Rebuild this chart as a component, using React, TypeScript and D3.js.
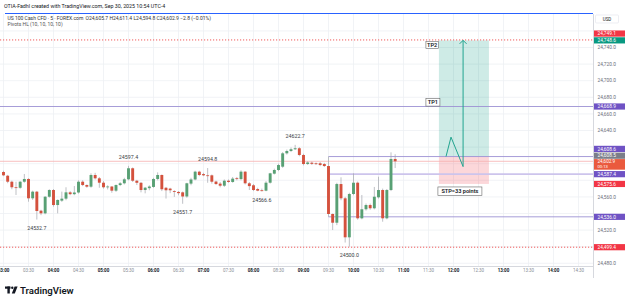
import React from "react";
import * as d3 from "d3";

// 5-minute bars starting 03:00
const opens = [24590.0,24585.5,24578.3,24571.6,24571.0,24578.3,24581.6,24558.3,24566.3,24543.4,24540.2,24560.2,24568.3,24550.2,24555.5,24557.9,24565.5,24563.3,24565.3,24578.3,24574.3,24572.3,24586.4,24582.4,24577.1,24571.6,24572.5,24567.5,24574.3,24576.4,24581.2,24594.5,24579.5,24577.0,24568.3,24570.5,24572.0,24581.6,24586.4,24571.0,24570.0,24567.0,24566.0,24565.5,24560.5,24576.0,24581.0,24590.4,24587.5,24586.0,24586.0,24578.5,24576.0,24573.5,24579.5,24578.0,24582.5,24581.5,24590.4,24576.4,24574.0,24569.5,24568.0,24567.5,24577.1,24588.0,24592.4,24596.4,24612.5,24615.3,24617.4,24618.6,24610.5,24599.6,24601.2,24600.5,24600.5,24599.6,24597.2,24539.4,24528.9,24575.5,24558.3,24511.3,24563.5,24577.1,24534.2,24545.1,24550.2,24546.3,24559.5,24568.3,24534.2,24568.3,24605.7];
const highs = [24591.5,24586.5,24579.5,24578.3,24579.0,24587.6,24582.5,24567.5,24567.2,24544.5,24561.0,24569.2,24569.5,24557.0,24566.3,24571.6,24567.0,24573.1,24580.0,24580.0,24575.0,24588.4,24589.0,24584.0,24579.0,24574.0,24573.0,24575.0,24578.0,24583.0,24597.4,24595.5,24580.5,24578.0,24572.0,24574.0,24583.0,24589.6,24587.0,24572.0,24571.0,24568.0,24567.0,24566.5,24577.0,24583.0,24591.5,24591.5,24589.0,24594.8,24587.0,24579.5,24578.0,24581.0,24581.0,24584.0,24584.0,24592.0,24591.0,24578.0,24575.5,24571.0,24570.0,24579.0,24589.0,24594.0,24600.0,24614.0,24617.0,24619.5,24622.7,24620.0,24612.0,24603.0,24602.5,24601.5,24602.0,24601.0,24608.6,24540.0,24577.0,24583.6,24560.0,24565.0,24588.4,24578.5,24562.3,24552.0,24552.0,24572.0,24584.3,24570.0,24569.5,24613.7,24611.4];
const lows = [24585.0,24576.5,24569.2,24562.3,24569.8,24577.0,24554.2,24556.3,24532.7,24538.0,24539.0,24559.0,24548.2,24540.2,24554.0,24556.0,24562.0,24562.0,24564.0,24573.0,24571.0,24571.0,24581.0,24571.0,24570.0,24569.0,24565.0,24566.0,24573.0,24575.0,24580.0,24578.0,24574.3,24565.5,24564.3,24568.0,24571.0,24580.0,24567.0,24558.0,24564.5,24560.0,24562.0,24551.7,24559.0,24574.0,24580.0,24585.0,24585.0,24577.0,24576.0,24574.5,24571.5,24572.0,24577.0,24577.0,24580.0,24580.0,24575.0,24568.3,24567.0,24566.8,24566.6,24566.8,24576.0,24587.0,24591.0,24595.0,24611.0,24614.0,24616.5,24609.0,24598.0,24598.5,24598.5,24598.5,24597.0,24596.0,24536.0,24520.1,24526.0,24556.0,24505.0,24500.0,24562.0,24532.5,24533.0,24543.5,24544.5,24545.0,24558.0,24530.1,24533.0,24567.0,24594.8];
const closes = [24586.0,24578.3,24571.6,24570.8,24578.3,24581.6,24558.3,24566.3,24543.0,24540.2,24560.2,24568.3,24550.2,24556.3,24557.9,24565.5,24563.3,24565.3,24578.3,24574.3,24572.3,24586.4,24582.4,24577.1,24571.6,24572.5,24567.5,24574.3,24576.4,24581.2,24594.5,24579.5,24577.0,24568.3,24571.1,24572.5,24581.6,24586.4,24569.2,24568.0,24568.0,24566.0,24564.5,24560.5,24576.4,24581.0,24590.4,24586.4,24586.0,24585.5,24578.3,24575.5,24573.5,24579.5,24578.0,24582.0,24581.5,24590.4,24576.4,24573.0,24568.3,24567.5,24567.0,24577.1,24588.4,24592.4,24598.4,24612.5,24615.3,24617.4,24618.6,24610.5,24599.6,24601.5,24599.8,24599.5,24598.4,24597.2,24539.4,24528.9,24575.5,24558.3,24511.3,24563.5,24577.1,24534.2,24545.1,24550.2,24546.3,24560.2,24568.3,24534.2,24568.3,24605.7,24602.9];
const barMinutes = 5;

const priceTicks = [24480, 24500, 24520, 24540, 24560, 24580, 24600, 24620, 24640, 24660, 24680, 24700, 24720, 24740, 24760];
const timeTickMinutes = [0, 30, 60, 90, 120, 150, 180, 210, 240, 270, 300, 330, 360, 390, 420, 450, 480, 510, 540, 570, 600, 630, 660, 690];
const timeTickLabels = ["03:00","03:30","04:00","04:30","05:00","05:30","06:00","06:30","07:00","07:30","08:00","08:30","09:00","09:30","10:00","10:30","11:00","11:30","12:00","12:30","13:00","13:30","14:00","14:30"];

const pivotBars = [8, 30, 43, 49, 62, 70, 83];
const pivotPrices = [24532.7, 24597.4, 24551.7, 24594.8, 24566.6, 24622.7, 24500.0];
const pivotTypes = ["low", "high", "low", "high", "low", "high", "low"];

const levelPrices = [24749.1, 24748.6, 24668.9, 24608.6, 24608.5, 24602.9, 24587.4, 24575.6, 24536.0, 24499.4];
const levelKinds = ["alert", "target", "tp1", "pivot", "barHigh", "last", "pivotMid", "stop", "pivot", "alert"];
const pivotLineStartBar = 78;
const countdown = "00:13";

const entryPrice = 24608.6;
const targetPrice = 24748.6;
const stopPrice = 24575.6;
const positionStartMin = 522.5;
const positionEndMin = 582.5;
const pathMinutes = [531, 537, 551.5, 551.5];
const pathPrices = [24608.6, 24632.0, 24596.5, 24748.6];
const stopText = "STP=33 points";

const W = 625, H = 304;
const plotRight = 593, plotTop = 14, plotBottom = 266;
const FONT = "Roboto, 'Liberation Sans', Arial, sans-serif";

const levelStyle: Record<string, { bg: string }> = {
  alert: { bg: "#f23645" },
  target: { bg: "#089981" },
  tp1: { bg: "#6f52c4" },
  pivot: { bg: "#6f52c4" },
  barHigh: { bg: "#7b7e89" },
  last: { bg: "#ea5a3e" },
  pivotMid: { bg: "#6f52c4" },
  stop: { bg: "#f23645" },
};

const fmt = d3.format(",.1f");

export default function App() {
  const x = d3.scaleLinear().domain([0, 360]).range([3.5, 303.5]);
  const y = d3.scaleLinear().domain([24480, 24740]).range([263.3, 47.5]);
  const bodyW = 2.9;

  const candles = opens.map((o, i) => ({
    o, h: highs[i], l: lows[i], c: closes[i], m: i * barMinutes,
  }));

  // axis label layout (avoid overlap, anchor = last price box)
  const spacing = 6.8;
  const items = levelPrices.map((p, i) => ({ p, kind: levelKinds[i], yc: y(p), pos: y(p) }));
  const anchor = items.find((d) => d.kind === "last")!;
  const aTop = anchor.yc - 2.2, aBot = anchor.yc + 8.4;
  const above = items.filter((d) => d !== anchor && d.p >= anchor.p).sort((a, b) => b.yc - a.yc);
  let lim = aTop;
  above.forEach((d) => { d.pos = Math.min(d.yc, lim - spacing / 2); lim = d.pos - spacing / 2; });
  const below = items.filter((d) => d !== anchor && d.p < anchor.p).sort((a, b) => a.yc - b.yc);
  lim = aBot;
  below.forEach((d) => { d.pos = Math.max(d.yc, lim + spacing / 2); lim = d.pos + spacing / 2; });

  // hide price ticks hidden behind labels
  const boxes = items.map((d) => d.kind === "last" ? [aTop, aBot] : [d.pos - 3.1, d.pos + 3.1]);
  const visibleTicks = priceTicks.filter((p) => {
    const yy = y(p);
    return !boxes.some(([a, b]) => yy + 2.2 > a && yy - 2.2 < b);
  });

  const lineFor = (d: typeof items[0]) => {
    const yy = y(d.p);
    if (d.kind === "alert")
      return <line key={"l" + d.p} x1={0} x2={plotRight} y1={yy} y2={yy} stroke="#f05a5a" strokeWidth={1} strokeDasharray="1.2 1.8" />;
    if (d.kind === "tp1")
      return <line key={"l" + d.p} x1={0} x2={plotRight} y1={yy} y2={yy} stroke="#9d92d4" strokeWidth={0.9} />;
    if (d.kind === "last")
      return <line key={"l" + d.p} x1={0} x2={plotRight} y1={yy} y2={yy} stroke="#f6b0b0" strokeWidth={0.8} />;
    if (d.kind === "pivot")
      return <line key={"l" + d.p} x1={x(pivotLineStartBar * barMinutes)} x2={plotRight} y1={yy} y2={yy} stroke="#9d92d4" strokeWidth={0.9} />;
    if (d.kind === "pivotMid")
      return <line key={"l" + d.p} x1={x(pivotLineStartBar * barMinutes)} x2={plotRight} y1={yy} y2={yy} stroke="#cdc4ec" strokeWidth={1.8} />;
    return null;
  };

  const pathLine = d3.line<number>().x((m) => x(m)).y((_, i) => y(pathPrices[i]));
  const arrowX = x(pathMinutes[pathMinutes.length - 1]);
  const arrowY = y(pathPrices[pathPrices.length - 1]);
  const pxL = x(positionStartMin), pxR = x(positionEndMin);

  return (
    <svg width={W} height={H} style={{ position: "absolute", left: 0, top: 0, background: "#fff" }} fontFamily={FONT}>
      <defs>
        <clipPath id="plot"><rect x={0} y={plotTop} width={plotRight} height={plotBottom - plotTop} /></clipPath>
      </defs>
      <rect x={0} y={0} width={W} height={H} fill="#fff" />

      {/* header */}
      <text x={4} y={8} fontSize={5.3} fill="#131722">OTIA-Fadhl created with TradingView.com, Sep 30, 2025 10:54 UTC-4</text>

      <g clipPath="url(#plot)">
        {timeTickMinutes.map((m) => (
          <line key={"vg" + m} x1={x(m)} x2={x(m)} y1={plotTop} y2={plotBottom} stroke="#eef0f4" strokeWidth={0.8} />
        ))}
        {priceTicks.map((p) => (
          <line key={"hg" + p} x1={0} x2={plotRight} y1={y(p)} y2={y(p)} stroke="#eef0f4" strokeWidth={0.8} />
        ))}

        {/* position tool */}
        <rect x={pxL} width={pxR - pxL} y={y(targetPrice)} height={y(entryPrice) - y(targetPrice)} fill="rgba(8,153,129,0.2)" />
        <rect x={pxL} width={pxR - pxL} y={y(entryPrice)} height={y(stopPrice) - y(entryPrice)} fill="rgba(242,54,69,0.2)" />

        {items.map(lineFor)}

        {/* candles */}
        {candles.map((d, i) => {
          const up = d.c >= d.o;
          const cx = x(d.m);
          const top = y(Math.max(d.o, d.c));
          const bh = Math.max(0.8, Math.abs(y(d.o) - y(d.c)));
          return (
            <g key={"c" + i}>
              <line x1={cx} x2={cx} y1={y(d.h)} y2={y(d.l)} stroke="#a3a6ad" strokeWidth={0.7} />
              <rect x={cx - bodyW / 2} y={top} width={bodyW} height={bh} fill={up ? "#58a074" : "#d4513d"} />
            </g>
          );
        })}

        {/* pivots */}
        {pivotBars.map((b, i) => (
          <text key={"pv" + i} x={x(b * barMinutes)} y={y(pivotPrices[i]) + (pivotTypes[i] === "high" ? -7 : 10.5)}
            fontSize={5.3} fill="#3a3d45" textAnchor="middle">{pivotPrices[i].toFixed(1)}</text>
        ))}

        {/* trade path */}
        <path d={pathLine(pathMinutes) || ""} fill="none" stroke="#22a48f" strokeWidth={1} />
        <path d={`M${arrowX - 3.5},${arrowY + 3.5}L${arrowX},${arrowY}L${arrowX + 3.5},${arrowY + 3.5}`} fill="none" stroke="#22a48f" strokeWidth={1} />

        {/* annotation boxes */}
        <g fontSize={5.6} fill="#131722">
          <rect x={pxL - 13} y={y(targetPrice) + 1.3} width={12.5} height={7} fill="#fff" stroke="#666" strokeWidth={0.6} />
          <text x={pxL - 6.75} y={y(targetPrice) + 6.9} textAnchor="middle" fontWeight={600}>TP2</text>
          <rect x={pxL - 13} y={y(levelPrices[2]) - 8} width={14} height={7.6} fill="#fff" stroke="#666" strokeWidth={0.6} />
          <text x={pxL - 6} y={y(levelPrices[2]) - 2.2} textAnchor="middle" fontWeight={600}>TP1</text>
          <rect x={pxL - 1} y={y(stopPrice) + 3} width={44} height={8.4} fill="#fff" stroke="#666" strokeWidth={0.6} />
          <text x={pxL + 21} y={y(stopPrice) + 9.3} textAnchor="middle" fontWeight={600}>{stopText}</text>
        </g>
      </g>

      {/* top blue line */}
      <line x1={5} x2={plotRight} y1={13.5} y2={13.5} stroke="#2962ff" strokeWidth={1} />
      <text x={7.5} y={20} fontSize={5} fill="#333">
        US 100 Cash CFD · 5 · FOREX.com <tspan dx={1}>O24,605.7</tspan> <tspan>H24,611.4</tspan> <tspan>L24,594.8</tspan> <tspan>C24,602.9</tspan> <tspan>−2.8 (−0.01%)</tspan>
      </text>
      <text x={7.5} y={26.3} fontSize={5} fill="#555">Pivots HL (10, 10, 10, 10)</text>

      {/* axes frame */}
      <line x1={plotRight + 0.5} x2={plotRight + 0.5} y1={plotTop} y2={278} stroke="#d6d8de" strokeWidth={1} />
      <line x1={0} x2={plotRight} y1={plotBottom + 0.5} y2={plotBottom + 0.5} stroke="#d6d8de" strokeWidth={1} />

      {/* time labels */}
      {timeTickMinutes.map((m, i) => {
        const full = m % 60 === 0;
        return (
          <text key={"tl" + m} x={x(m)} y={272.2} fontSize={4.5} textAnchor="middle" fill={full ? "#131722" : "#8a8d96"} fontWeight={full ? 700 : 400}>{timeTickLabels[i]}</text>
        );
      })}

      {/* price tick labels */}
      {visibleTicks.map((p) => (
        <text key={"pl" + p} x={597.5} y={y(p) + 1.7} fontSize={4.8} fill="#6a6d78">{fmt(p)}</text>
      ))}

      {/* USD box */}
      <rect x={595.5} y={15} width={23} height={8} fill="#fff" stroke="#e0e3eb" strokeWidth={0.6} rx={1} />
      <text x={607} y={20.8} fontSize={4.5} textAnchor="middle" fill="#131722">USD</text>

      {/* price labels */}
      {items.map((d) => {
        const st = levelStyle[d.kind];
        if (d.kind === "last") {
          return (
            <g key={"lb" + d.p}>
              <rect x={594} y={aTop} width={31} height={aBot - aTop} fill={st.bg} />
              <text x={597.5} y={d.yc + 1.3} fontSize={4.6} fill="#fff">{fmt(d.p)}</text>
              <text x={597.5} y={d.yc + 7.1} fontSize={4.2} fill="#fff">{countdown}</text>
            </g>
          );
        }
        return (
          <g key={"lb" + d.p}>
            <rect x={594} y={d.pos - 3.1} width={31} height={6.2} fill={st.bg} />
            <text x={597.5} y={d.pos + 1.7} fontSize={4.8} fill="#fff">{fmt(d.p)}</text>
          </g>
        );
      })}

      {/* TradingView logo */}
      <g fill="#131722">
        <rect x={5} y={286.5} width={5.5} height={2.2} />
        <rect x={7.4} y={286.5} width={2.4} height={7} />
        <circle cx={12.3} cy={287.7} r={1.2} />
        <path d="M14.6,286.5 L17.6,286.5 L14.8,293.5 L11.8,293.5 Z" />
      </g>
      <text x={20} y={293.6} fontSize={9.6} fontWeight={600} fill="#131722" fontFamily={FONT}>TradingView</text>
    </svg>
  );
}
